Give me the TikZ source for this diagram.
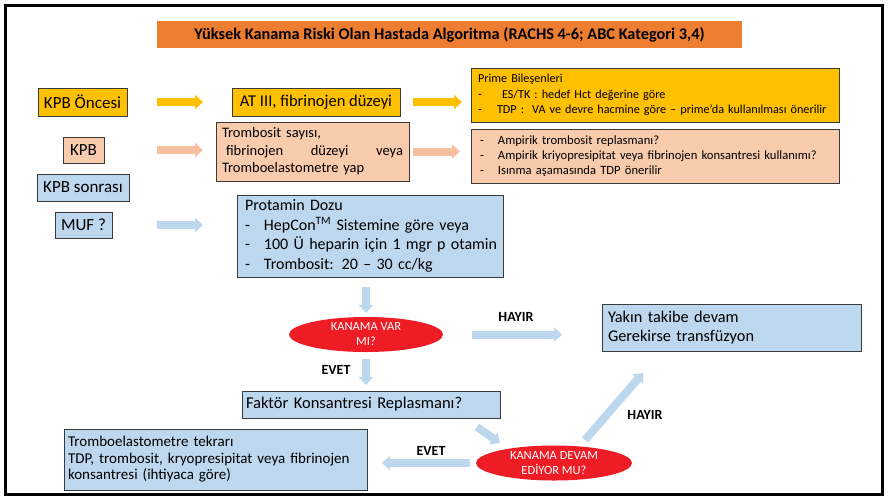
\documentclass[tikz,border=0pt]{standalone}
\usepackage{fontspec}
\setmainfont{Carlito}
\usetikzlibrary{arrows.meta,shapes.geometric,calc}

\definecolor{titleorange}{HTML}{ED7D31}
\definecolor{yellowc}{HTML}{FFC000}
\definecolor{salmonc}{HTML}{F8CBAD}
\definecolor{salmonarrow}{HTML}{F6BFA0}
\definecolor{bluec}{HTML}{BDD7EE}
\definecolor{bluearrow}{HTML}{BDD7EE}
\definecolor{redc}{HTML}{EE1C25}
\definecolor{boxline}{HTML}{3A3A3A}

% left padding used at the start of each line in the text boxes
\newcommand{\pad}[1]{\hspace*{#1pt}}
\newcommand{\itm}[1]{\makebox[#1pt][l]{-}}

\begin{document}
\begin{tikzpicture}[x=1pt,y=-1pt,
  box/.style={draw=boxline, line width=0.8pt, outer sep=0pt},
  textbox/.style={box, inner sep=0pt, align=left},
  bigtext/.style={font=\fontsize{17}{20}\selectfont},
  midtext/.style={font=\fontsize{16.5}{19.5}\selectfont},
  decision/.style={ellipse, fill=redc, text=white, inner sep=0pt, outer sep=0pt,
    align=center, font=\fontsize{12.5}{15}\selectfont},
  lbl/.style={font=\bfseries\fontsize{14}{16}\selectfont, inner sep=0pt},
  blk/.style={line width=8pt, -{Triangle[width=14pt,length=8pt]}},
]
% canvas and outer frame
\fill[white] (0,0) rectangle (888,499);
\useasboundingbox (0,0) rectangle (888,499);
\draw[line width=3pt, black] (5,5) rectangle (882,494);

% title banner
\node[fill=titleorange, minimum width=585pt, minimum height=27pt, inner sep=0pt,
  font=\bfseries\fontsize{16.3}{19}\selectfont] (title) at (449.5,34.5)
  {Yüksek Kanama Riski Olan Hastada Algoritma (RACHS 4-6; ABC Kategori 3,4)};

% phase labels
\node[box, fill=yellowc, bigtext, minimum width=89pt, minimum height=28pt, inner sep=0pt]
  (kpbonce) at (82.5,102) {KPB Öncesi};
\node[box, fill=salmonc, bigtext, minimum width=41pt, minimum height=26pt, inner sep=0pt]
  (kpb) at (83.5,150) {KPB};
\node[box, fill=bluec, bigtext, minimum width=92pt, minimum height=27pt, inner sep=0pt]
  (kpbsonra) at (83,187.5) {KPB sonrası};
\node[box, fill=bluec, bigtext, minimum width=57pt, minimum height=26pt, inner sep=0pt]
  (muf) at (83.5,225) {MUF ?};

% pre-bypass row
\node[box, fill=yellowc, midtext, minimum width=168pt, minimum height=28pt, inner sep=0pt]
  (at3) at (316,102) {AT III, fibrinojen düzeyi};
\node[textbox, fill=yellowc, minimum width=368pt, minimum height=54pt, text width=368pt,
  font=\fontsize{12.2}{15.5}\selectfont]
  (prime) at (655,95)
  {\pad{7}Prime Bileşenleri\\
   \pad{7}\itm{24}ES/TK : hedef Hct değerine göre\\
   \pad{7}\itm{19}TDP :\ \ VA ve devre hacmine göre – prime’da kullanılması önerilir};

% bypass row
\node[box, fill=salmonc, minimum width=193pt, minimum height=59pt, inner xsep=6pt, inner ysep=0pt,
  text width=181pt, align=left, font=\fontsize{14.5}{17.5}\selectfont]
  (tromb1) at (312.5,151.5)
  {Trombosit sayısı,\\
   \hspace*{4pt}fibrinojen\hfill düzeyi\hfill veya\\
   Tromboelastometre yap};
\node[textbox, fill=salmonc, minimum width=368pt, minimum height=54pt, text width=368pt,
  font=\fontsize{12.6}{15}\selectfont]
  (ampirik) at (655,156)
  {\pad{9}\itm{18}Ampirik trombosit replasmanı?\\
   \pad{9}\itm{18}Ampirik kriyopresipitat veya fibrinojen konsantresi kullanımı?\\
   \pad{9}\itm{18}Isınma aşamasında TDP önerilir};

% post-bypass flow
\node[textbox, fill=bluec, minimum width=266pt, minimum height=82pt, text width=266pt,
  font=\fontsize{16}{19.5}\selectfont]
  (protamin) at (370,236)
  {\pad{8}Protamin Dozu\\
   \pad{8}\itm{19}HepCon\textsuperscript{TM} Sistemine göre veya\\
   \pad{8}\itm{19}100 Ü heparin için 1 mgr p otamin\\
   \pad{8}\itm{19}Trombosit: 20 – 30 cc/kg};

\node[decision, minimum width=154pt, minimum height=35pt] (var) at (366,334.5) {KANAMA VAR\\MI?};

\node[textbox, fill=bluec, minimum width=259pt, minimum height=47pt, text width=259pt,
  font=\fontsize{16.3}{19}\selectfont]
  (yakin) at (731.5,327.5) {\pad{6}Yakın takibe devam\\\pad{6}Gerekirse transfüzyon};

\node[textbox, fill=bluec, minimum width=258pt, minimum height=27pt, text width=258pt, midtext]
  (faktor) at (371,404.5) {\pad{4}Faktör Konsantresi Replasmanı?};

\node[decision, minimum width=156pt, minimum height=35pt] (devam) at (554,463) {KANAMA DEVAM\\EDİYOR MU?};

\node[textbox, fill=bluec, minimum width=303pt, minimum height=61pt, text width=303pt,
  font=\fontsize{15}{16.5}\selectfont]
  (tromb2) at (215.5,459.5)
  {\pad{4}Tromboelastometre tekrarı\\
   \pad{4}TDP, trombosit, kryopresipitat veya fibrinojen\\
   \pad{4}konsantresi (ihtiyaca göre)};

% branch labels
\node[lbl] (hayir1) at (516,317) {HAYIR};
\node[lbl] (evet1) at (336,370) {EVET};
\node[lbl] (evet2) at (431,451) {EVET};
\node[lbl] (hayir2) at (645,415) {HAYIR};

% connectors
\draw[blk, yellowc, shorten <=30pt, shorten >=29pt] (kpbonce.east) -- (at3.west);
\draw[blk, yellowc, shorten <=13pt, shorten >=9pt] (at3.east) -- (at3.east -| prime.west);
\draw[blk, salmonarrow, shorten <=53pt, shorten >=13pt] (kpb.east) -- (kpb.east -| tromb1.west);
\draw[blk, salmonarrow, shorten <=4pt, shorten >=11pt] (tromb1.east) -- (tromb1.east -| ampirik.west);
\draw[blk, bluearrow, shorten <=45pt, shorten >=34pt] (muf.east) -- (muf.east -| protamin.west);
\draw[blk, bluearrow, shorten <=10pt, shorten >=4pt] (var.north |- protamin.south) -- (var.north);
\draw[blk, bluearrow, shorten <=29pt, shorten >=40pt] (var.east) -- (var.east -| yakin.west);
\draw[blk, bluearrow, shorten <=7pt, shorten >=6pt] (var.south) -- (var.south |- faktor.north);
\draw[blk, bluearrow] ($(faktor.south east)+(-23,9)$) -- ($(faktor.south east)+(0,25)$);
\draw[blk, bluearrow] ($(devam.center)+(31,-23)$) -- ($(yakin.south west)+(41,22)$);
\draw[blk, bluearrow, shorten <=6pt, shorten >=15pt] (devam.west) -- (devam.west -| tromb2.east);
\end{tikzpicture}
\end{document}
